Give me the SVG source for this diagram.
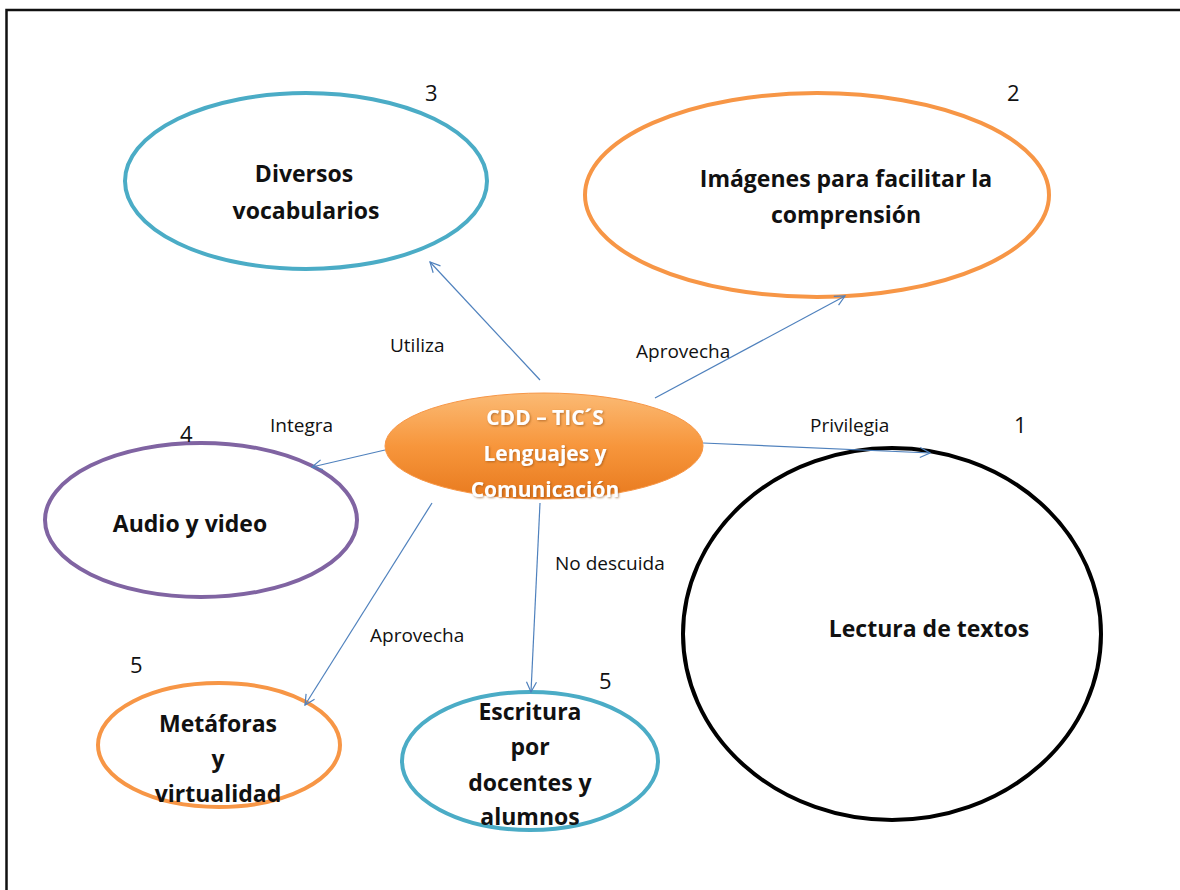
<svg xmlns="http://www.w3.org/2000/svg" width="1180" height="890" viewBox="0 0 1180 890">
<style>
.nt{font-family:"Open Sans","Liberation Sans",sans-serif;font-weight:bold;font-size:23px;fill:#111;text-anchor:middle}
.ct{font-family:"Open Sans","Liberation Sans",sans-serif;font-weight:bold;font-size:21px;fill:#fff;text-anchor:middle}
.lb{font-family:"Open Sans","Liberation Sans",sans-serif;font-size:19px;fill:#111}
.num{font-family:"Open Sans","Liberation Sans",sans-serif;font-size:22px;fill:#111}
.e{fill:#fff;stroke-width:4}
.cn{stroke:#4F81BD;stroke-width:1.2;fill:none;marker-end:url(#ah)}
</style>
<defs>
<marker id="ah" viewBox="0 0 12 12" refX="11" refY="6" markerWidth="12" markerHeight="12" markerUnits="userSpaceOnUse" orient="auto">
<path d="M1,1 L11,6 L1,11" fill="none" stroke="#4F81BD" stroke-width="1.2"/>
</marker>
<linearGradient id="og" x1="0" y1="0" x2="0" y2="1">
<stop offset="0" stop-color="#FBBA74"/>
<stop offset="0.5" stop-color="#F7963C"/>
<stop offset="1" stop-color="#E87A1E"/>
</linearGradient>
<filter id="ts" x="-10%" y="-10%" width="120%" height="130%">
<feDropShadow dx="1" dy="1" stdDeviation="1" flood-color="#8a4a10" flood-opacity="0.6"/>
</filter>
</defs>
<rect x="0" y="0" width="1180" height="890" fill="#fff"/>
<path d="M6.5,895 L6.5,10 L1185,10" fill="none" stroke="#111" stroke-width="2.5"/>

<g id="n-vocab">
<ellipse class="e" cx="306" cy="181" rx="181" ry="88" stroke="#4BACC6"/>
<text class="nt" x="304" y="182">Diversos</text>
<text class="nt" x="306" y="219">vocabularios</text>
<text class="num" x="425" y="101">3</text>
</g>

<g id="n-imagenes">
<ellipse class="e" cx="817" cy="195" rx="232" ry="102" stroke="#F79646"/>
<text class="nt" x="846" y="187">Imágenes para facilitar la</text>
<text class="nt" x="846" y="223">comprensión</text>
<text class="num" x="1007" y="101">2</text>
</g>

<g id="n-audio">
<ellipse class="e" cx="201" cy="520" rx="156" ry="77" stroke="#8064A2"/>
<text class="nt" x="190" y="532">Audio y video</text>
<text class="num" x="180" y="442">4</text>
</g>

<g id="n-lectura">
<ellipse class="e" cx="892" cy="634" rx="209" ry="186" stroke="#000"/>
<text class="nt" x="929" y="637">Lectura de textos</text>
<text class="num" x="1014" y="433">1</text>
</g>

<g id="n-metaforas">
<ellipse class="e" cx="219" cy="745" rx="121" ry="62" stroke="#F79646"/>
<text class="nt" x="218" y="732">Metáforas</text>
<text class="nt" x="218" y="767">y</text>
<text class="nt" x="218" y="802">virtualidad</text>
<text class="num" x="130" y="673">5</text>
</g>

<g id="n-escritura">
<ellipse class="e" cx="530" cy="761" rx="128" ry="69" stroke="#4BACC6"/>
<text class="nt" x="530" y="720">Escritura</text>
<text class="nt" x="530" y="755">por</text>
<text class="nt" x="530" y="791">docentes y</text>
<text class="nt" x="530" y="825">alumnos</text>
<text class="num" x="599" y="689">5</text>
</g>

<g id="connectors">
<line class="cn" x1="540" y1="380" x2="430" y2="262"/>
<line class="cn" x1="655" y1="398" x2="845" y2="296"/>
<line class="cn" x1="703" y1="443" x2="930" y2="453"/>
<line class="cn" x1="385" y1="450" x2="312" y2="467"/>
<line class="cn" x1="432" y1="503" x2="305" y2="705"/>
<line class="cn" x1="540" y1="503" x2="531" y2="692"/>
<text class="lb" x="390" y="352">Utiliza</text>
<text class="lb" x="636" y="358">Aprovecha</text>
<text class="lb" x="270" y="432">Integra</text>
<text class="lb" x="810" y="432">Privilegia</text>
<text class="lb" x="555" y="570">No descuida</text>
<text class="lb" x="370" y="642">Aprovecha</text>
</g>

<g id="n-center">
<ellipse cx="544" cy="446" rx="159" ry="53" fill="url(#og)" stroke="#F79646" stroke-width="1"/>
<g filter="url(#ts)">
<text class="ct" x="545" y="425">CDD – TIC´S</text>
<text class="ct" x="545" y="461">Lenguajes y</text>
<text class="ct" x="545" y="497">Comunicación</text>
</g>
</g>
</svg>
